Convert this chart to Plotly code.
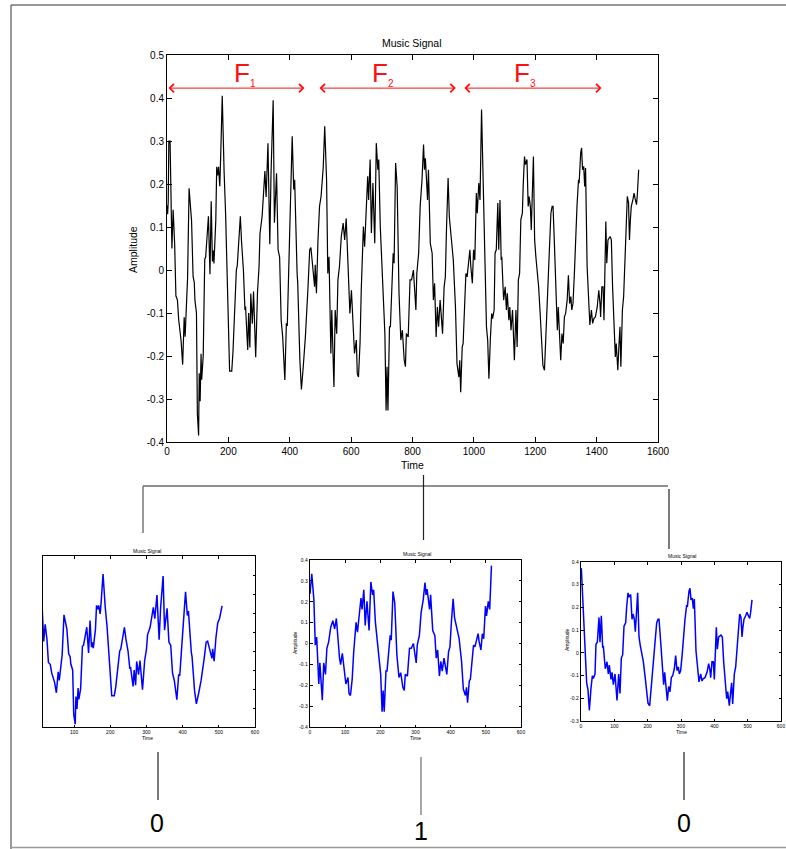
import plotly.graph_objects as go

W, H = 786, 849

# ---------------- data ----------------
time = [0, 2, 4, 6, 10, 13, 16, 20, 25, 29, 34, 38, 42, 46, 51, 56, 59, 64, 67, 72, 80, 85, 89, 91, 96, 99,
        103, 105, 108, 111, 113, 118, 123, 126, 129, 135, 140, 144, 148, 151, 153, 159, 162, 165, 168, 172,
        175, 180, 186, 191, 204, 211, 215, 220, 226, 229, 235, 239, 243, 249, 254, 256, 263, 266, 270, 273,
        278, 282, 289, 295, 300, 303, 310, 319, 323, 329, 335, 339, 346, 350, 357, 362, 367, 372, 377, 384,
        389, 392, 400, 408, 413, 416, 424, 426, 433, 438, 444, 451, 459, 465, 469, 476, 481, 483, 487, 492,
        497, 502, 505, 509, 514, 520, 524, 528, 534, 537, 544, 548, 553, 557, 562, 568, 574, 579, 584, 593,
        596, 601, 607, 611, 617, 620, 624, 629, 633, 640, 644, 650, 654, 657, 662, 666, 671, 677, 682, 687,
        690, 695, 700, 705, 710, 714, 717, 720, 725, 728, 734, 737, 740, 745, 750, 756, 762, 767, 773, 777,
        780, 786, 792, 797, 803, 808, 811, 814, 820, 825, 831, 836, 839, 842, 846, 849, 852, 858, 864, 868,
        872, 877, 881, 885, 890, 894, 898, 903, 907, 911, 916, 920, 923, 929, 933, 940, 945, 951, 954, 957,
        962, 965, 969, 974, 978, 983, 987, 990, 995, 999, 1003, 1008, 1011, 1016, 1020, 1025, 1030, 1034,
        1039, 1041, 1045, 1049, 1054, 1058, 1061, 1066, 1069, 1073, 1078, 1081, 1085, 1089, 1091, 1095,
        1097, 1102, 1106, 1109, 1114, 1117, 1121, 1126, 1129, 1132, 1137, 1141, 1145, 1149, 1153, 1158,
        1161, 1165, 1168, 1173, 1177, 1180, 1184, 1187, 1194, 1198, 1202, 1211, 1216, 1221, 1225, 1230,
        1234, 1240, 1247, 1251, 1255, 1258, 1262, 1269, 1272, 1275, 1280, 1283, 1287, 1291, 1295, 1299,
        1304, 1308, 1312, 1316, 1319, 1323, 1328, 1332, 1336, 1341, 1343, 1348, 1351, 1354, 1358, 1361,
        1364, 1369, 1374, 1378, 1383, 1387, 1391, 1396, 1402, 1407, 1411, 1413, 1417, 1421, 1424, 1430,
        1433, 1437, 1444, 1448, 1452, 1457, 1461, 1464, 1469, 1473, 1476, 1479, 1484, 1488, 1493, 1496,
        1500, 1504, 1507, 1510, 1513, 1518, 1522, 1525, 1530, 1533, 1537]

amplitude = [0.15, 0.13, 0.16, 0.30, 0.30, 0.12, 0.05, 0.14, 0.06, -0.06, -0.07, -0.115, -0.135, -0.165,
             -0.22, -0.11, -0.155, -0.06, -0.02, 0.19, 0.115, -0.015, -0.03, -0.07, -0.10, -0.335,
             -0.385, -0.24, -0.305, -0.195, -0.255, -0.20, 0.025, 0.03, 0.07, 0.125, -0.01, 0.16, 0.02,
             0.045, 0.015, 0.115, 0.24, 0.22, 0.24, 0.195, 0.265, 0.405, 0.23, 0.13, -0.235, -0.235,
             -0.19, -0.10, 0.0, 0.01, 0.095, 0.125, 0.065, 0.0, -0.093, -0.085, -0.186, -0.10, -0.18,
             -0.055, -0.125, -0.05, -0.203, -0.05, 0.008, 0.085, 0.125, 0.23, 0.17, 0.295, 0.06, 0.225,
             0.395, 0.11, 0.225, 0.047, 0.03, -0.117, -0.155, -0.256, -0.124, -0.13, 0.093, 0.311,
             0.187, 0.21, -0.008, -0.03, -0.21, -0.278, -0.225, -0.155, -0.047, 0.047, 0.052, -0.008,
             -0.039, 0.012, -0.054, 0.07, 0.148, 0.171, 0.206, 0.237, 0.334, 0.21, -0.008, 0.031,
             -0.194, -0.093, -0.272, -0.093, -0.148, -0.023, 0.008, 0.078, 0.109, 0.07, 0.12, -0.07,
             -0.101, -0.047, -0.156, -0.194, -0.163, -0.241, -0.249, -0.171, -0.047, 0.101, 0.054,
             0.156, 0.218, 0.163, 0.257, 0.086, 0.202, 0.062, 0.295, 0.233, 0.257, 0.101, 0.023, -0.07,
             -0.148, -0.327, -0.225, -0.327, -0.132, -0.132, -0.031, 0.039, 0.016, 0.249, 0.194, -0.054,
             -0.163, -0.14, -0.21, -0.225, -0.148, -0.156, -0.023, -0.023, 0.0, -0.054, -0.093, -0.008,
             0.039, 0.148, 0.21, 0.292, 0.233, 0.26, 0.21, 0.163, 0.233, 0.062, 0.039, -0.07, -0.031,
             -0.156, -0.086, -0.132, -0.07, -0.101, -0.148, -0.039, -0.016, 0.101, 0.214, 0.124, 0.101,
             0.054, 0.023, -0.086, -0.218, -0.249, -0.21, -0.284, -0.179, -0.171, -0.093, -0.008,
             -0.016, 0.023, 0.047, 0.008, -0.031, 0.047, 0.023, 0.179, 0.132, 0.202, 0.163, 0.373,
             0.194, 0.039, -0.101, -0.132, -0.163, -0.253, -0.156, -0.101, -0.113, -0.093, 0.039,
             0.047, 0.156, 0.047, 0.163, 0.023, 0.031, -0.039, -0.07, -0.039, -0.093, -0.054, -0.117,
             -0.086, -0.14, -0.093, -0.171, -0.21, -0.093, -0.179, -0.023, -0.008, 0.117, 0.132,
             0.202, 0.264, 0.245, 0.257, 0.148, 0.171, 0.148, 0.093, 0.264, 0.07, 0.031, -0.039,
             -0.101, -0.156, -0.222, -0.233, -0.163, -0.054, 0.047, 0.132, 0.148, 0.148, 0.07, -0.093,
             -0.14, -0.086, -0.163, -0.21, -0.148, -0.171, -0.109, -0.101, -0.07, -0.012, -0.078,
             -0.062, -0.093, -0.078, 0.0, 0.086, 0.148, 0.21, 0.202, 0.272, 0.284, 0.233, 0.241,
             0.194, 0.237, 0.008, -0.054, -0.128, -0.093, -0.124, -0.113, -0.109, -0.086, -0.047,
             -0.078, -0.109, -0.039, -0.039, -0.117, 0.113, 0.016, 0.07, 0.078, 0.07, -0.039, -0.132,
             -0.202, -0.171, -0.233, -0.171, -0.132, -0.225, -0.093, -0.062, 0.039, 0.109, 0.171,
             0.156, 0.07, 0.117, 0.148, 0.163, 0.179, 0.167, 0.152, 0.179, 0.233]

# frames shown below the main signal (start / end sample of each)
frame_starts = [0, 509, 1024]
frame_ends = [512, 1025, 1540]
frame_names = ["1", "2", "3"]
# the red arrows marking the frames on the main plot
arrow_starts = [0, 492, 964]
arrow_ends = [448, 941, 1416]
arrow_level = 0.423
frame_label_x = [255, 704, 1166]
frame_label_y = 0.458
frame_bits = ["0", "1", "0"]

main_xticks = [0, 200, 400, 600, 800, 1000, 1200, 1400, 1600]
main_yticks = [-0.4, -0.3, -0.2, -0.1, 0, 0.1, 0.2, 0.3, 0.4, 0.5]
main_yticktext = ["-0.4", "-0.3", "-0.2", "-0.1", "0", "0.1", "0.2", "0.3", "0.4", "0.5"]
sub_xticks = [0, 100, 200, 300, 400, 500, 600]
sub_yranges = [(-0.4, 0.5), (-0.4, 0.4), (-0.3, 0.4)]
sub_xranges = [(14, 600), (0, 600), (0, 600)]

# ---------------- layout helpers ----------------
FONT = "Liberation Sans, Arial, sans-serif"


def fx(p):
    return p / W


def fy(p):
    return 1 - p / H


fig = go.Figure()

# main signal
fig.add_trace(go.Scatter(x=time, y=amplitude, mode="lines",
                         line=dict(color="black", width=1.2), xaxis="x", yaxis="y",
                         showlegend=False, hoverinfo="skip"))

# segments
sub_axes = [("x2", "y2"), ("x3", "y3"), ("x4", "y4")]
for i, (xa, ya) in enumerate(sub_axes):
    xs, ys = [], []
    for t, a in zip(time, amplitude):
        if frame_starts[i] <= t <= frame_ends[i]:
            xs.append(t - frame_starts[i])
            ys.append(a)
    fig.add_trace(go.Scatter(x=xs, y=ys, mode="lines", line=dict(color="#0000ff", width=1.5),
                             xaxis=xa, yaxis=ya, showlegend=False, hoverinfo="skip"))

axis_common = dict(showgrid=False, zeroline=False, showline=True, linecolor="black",
                   ticks="inside", tickcolor="black", fixedrange=True, automargin=False)

layout = dict(
    width=W, height=H, autosize=False, margin=dict(l=0, r=0, t=0, b=0, pad=0),
    paper_bgcolor="white", plot_bgcolor="white", dragmode=False,
    font=dict(family=FONT, color="black"),
    xaxis=dict(domain=[fx(167), fx(658)], range=[0, 1600], tickvals=main_xticks,
               ticklen=5, linewidth=1, mirror="ticks", tickfont=dict(size=10), anchor="y",
               **axis_common),
    yaxis=dict(domain=[fy(442), fy(55)], range=[-0.4, 0.5], tickvals=main_yticks,
               ticktext=main_yticktext, ticklen=5, linewidth=1, mirror="ticks",
               tickfont=dict(size=10), anchor="x", **axis_common),
)

sub_boxes = [(43, 255, 556, 727), (310, 521, 560, 727), (581, 781, 562, 721)]
for i, (xa, ya) in enumerate(sub_axes):
    x0, x1, y0, y1 = sub_boxes[i]
    lo, hi = sub_yranges[i]
    yt = [round(lo + 0.1 * k, 1) for k in range(int(round((hi - lo) / 0.1)) + 1)]
    ytt = [("0" if abs(v) < 1e-9 else ("%g" % v)) for v in yt]
    xkey = "xaxis" + xa[1:]
    ykey = "yaxis" + ya[1:]
    layout[xkey] = dict(domain=[fx(x0), fx(x1)], range=list(sub_xranges[i]), tickvals=sub_xticks,
                        ticklen=2.5, linewidth=1.3, mirror="ticks", tickfont=dict(size=5),
                        anchor=ya, **axis_common)
    ydict = dict(domain=[fy(y1), fy(y0)], range=[lo, hi], tickvals=yt, ticktext=ytt,
                 ticklen=2.5, linewidth=1.3, tickfont=dict(size=5), anchor=xa, **axis_common)
    if i == 0:
        ydict.update(side="right", showticklabels=False, mirror=True)
    else:
        ydict.update(mirror="ticks")
    layout[ykey] = ydict

fig.update_layout(**layout)

ann = []


def text_at(text, x, y, size, **kw):
    d = dict(text=text, x=fx(x), y=fy(y), xref="paper", yref="paper", showarrow=False,
             xanchor="center", yanchor="middle", font=dict(size=size))
    d.update(kw)
    ann.append(d)


# main texts
text_at("Music Signal", 412, 43, 10.5)
text_at("Time", 412, 465, 10.5)
text_at("Amplitude", 133, 250, 10.5, textangle=-90)

# sub texts
sub_title_pos = [(147, 551), (417, 554), (682, 556)]
sub_time_pos = [(147, 738), (416, 738), (681, 732)]
sub_amp_pos = [None, (295, 643), (567, 640)]
for i in range(3):
    text_at("Music Signal", sub_title_pos[i][0], sub_title_pos[i][1], 5)
    text_at("Time", sub_time_pos[i][0], sub_time_pos[i][1], 5)
    if sub_amp_pos[i]:
        text_at("Amplitude", sub_amp_pos[i][0], sub_amp_pos[i][1], 5, textangle=-90)

# red arrows + F labels
for i in range(3):
    ann.append(dict(x=arrow_ends[i], y=arrow_level, ax=arrow_starts[i], ay=arrow_level,
                    xref="x", yref="y", axref="x", ayref="y", text="", showarrow=True,
                    arrowside="end+start", arrowhead=4, startarrowhead=4,
                    arrowsize=1.6, startarrowsize=1.6, arrowwidth=1, arrowcolor="#ff1010"))
    ann.append(dict(x=frame_label_x[i], y=frame_label_y, xref="x", yref="y", showarrow=False,
                    xanchor="center", yanchor="middle",
                    text="F<sub><span style='font-size:10px'>%s</span></sub>" % frame_names[i],
                    font=dict(size=26, color="#ff1010")))

# bottom bits
bit_pos = [(157, 823), (421, 831), (684, 823)]
for i in range(3):
    text_at(frame_bits[i], bit_pos[i][0], bit_pos[i][1], 25)

fig.update_layout(annotations=ann)

# connector / border lines
shapes = []


def seg(x0, y0, x1, y1, color="#222222", width=1.2):
    shapes.append(dict(type="line", xref="paper", yref="paper", x0=fx(x0), y0=fy(y0),
                       x1=fx(x1), y1=fy(y1), line=dict(color=color, width=width)))


seg(423.5, 475, 423.5, 540)
seg(143, 486, 668, 486)
seg(143, 486, 143, 533, color="#777777", width=1.5)
seg(669, 489, 669, 549)
seg(158, 752, 158, 800)
seg(421, 757, 421, 815, color="#777777", width=1.3)
seg(684, 752, 684, 800)
# frame border
seg(11, 5, 786, 5, color="#333333", width=1.2)
seg(11, 5, 11, 849, color="#555555", width=1.2)
seg(11, 847.5, 786, 847.5, color="#999999", width=1.5)

fig.update_layout(shapes=shapes)

fig.write_html("out.html", config={"staticPlot": True, "displayModeBar": False})
